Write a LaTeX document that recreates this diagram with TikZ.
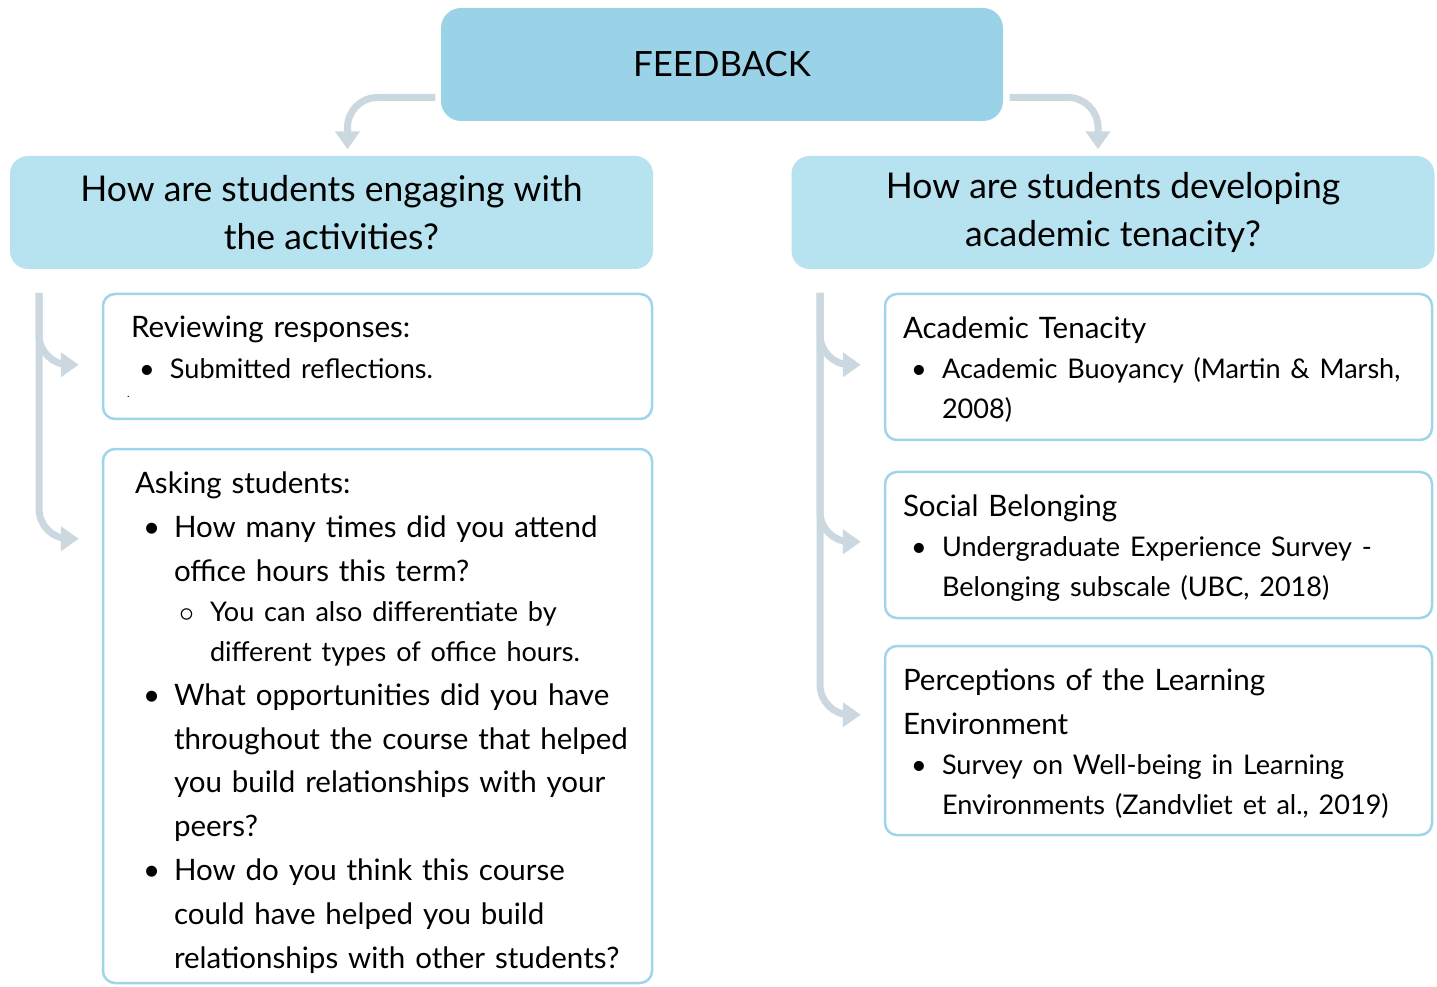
\documentclass[tikz,border=0pt]{standalone}
\usepackage{fontspec}
\setmainfont{Lato}
\usetikzlibrary{calc,arrows.meta}

\definecolor{fbblue}{HTML}{9AD3E8}
\definecolor{qblue}{HTML}{B7E2EF}
\definecolor{cardline}{HTML}{9ED5EB}
\definecolor{flowgray}{HTML}{CCD8DF}

% bullets and hanging indents
\newcommand{\itm}{\hspace*{0.8mm}\makebox[3.1mm][l]{\textbullet}}
\newcommand{\ind}{\hspace*{3.9mm}}
\newcommand{\subitm}{\hspace*{4.4mm}\makebox[3.1mm][l]{$\circ$}}
\newcommand{\subind}{\hspace*{7.5mm}}
\newcommand{\sml}{\fontsize{7.7}{12.5}\selectfont}
\newcommand{\pad}[1]{\leftskip=#1\rightskip=0pt plus 1fil\relax}

\tikzset{
    fbbox/.style={fill=fbblue, rounded corners=2mm, minimum width=56.2mm, minimum height=11.3mm, font=\fontsize{9.9}{12}\selectfont},
    qbox/.style={fill=qblue, rounded corners=1.8mm, minimum width=64.3mm, minimum height=11.3mm, align=center, font=\fontsize{10.1}{13.66}\selectfont},
    card/.style={draw=cardline, line width=0.25mm, rounded corners=1.2mm, align=left, inner xsep=1mm, font=\fontsize{8.4}{12.5}\selectfont},
    flow/.style={draw=flowgray, line width=0.7mm, rounded corners=3mm, -{Triangle[width=2.4mm,length=1.8mm]}}
}

\begin{document}
\begin{tikzpicture}[x=0.1mm, y=-0.1mm]
        \useasboundingbox (0,0) rectangle (1437,987);
        %TOP
        \node[fbbox] (fb) at (722,64.5) {FEEDBACK};
        %QUESTIONS
        \node[qbox] (engage) at (331.5,212.5) {How are students engaging with\\the activities?};
        \node[qbox] (tenacity) at (1113,212.5) {How are students developing\\academic tenacity?};
        %LEFT CARDS
        \node[card, text width=52.9mm, minimum height=12.5mm] (rev) at (377.5,356.5)
            {\pad{1.8mm}Reviewing responses:\\[-0.3mm]
             {\sml\itm Submitted reflections.}\\[-2.5mm]
             \hspace*{-0.4mm}{\fontsize{3}{3}\selectfont .}\par};
        \node[card, text width=52.9mm, minimum height=53.4mm, inner ysep=0.8mm] (ask) at (377.5,716)
            {\pad{2.2mm}\rule{0pt}{10pt}Asking students:\\
             \itm How many times did you attend\\
             \ind office hours this term?\\[-0.4mm]
             {\sml\subitm You can also differentiate by}\\[-0.4mm]
             {\sml\subind different types of office hours.}\\
             \itm What opportunities did you have\\
             \ind throughout the course that helped\\
             \ind you build relationships with your\\
             \ind peers?\\
             \itm How do you think this course\\
             \ind could have helped you build\\
             \ind relationships with other students?\par};
        %RIGHT CARDS
        \node[card, text width=52.7mm, minimum height=14.6mm] (acad) at (1158.5,367)
            {\pad{0.8mm}\rule{0pt}{7.8pt}Academic Tenacity\\[-0.4mm]
             {\sml\itm Academic Buoyancy (Martin \& Marsh,}\\[-0.4mm]
             {\sml\ind 2008)}\par};
        \node[card, text width=52.7mm, minimum height=14.6mm] (social) at (1158.5,545)
            {\pad{0.8mm}\rule{0pt}{7.8pt}Social Belonging\\[-0.4mm]
             {\sml\itm Undergraduate Experience Survey -}\\[-0.4mm]
             {\sml\ind Belonging subscale (UBC, 2018)}\par};
        \node[card, text width=52.7mm, minimum height=18.9mm] (percep) at (1158.5,740.5)
            {\pad{0.8mm}\rule{0pt}{7.8pt}Perceptions of the Learning\\
             Environment\\[-0.4mm]
             {\sml\itm Survey on Well-being in Learning}\\[-0.4mm]
             {\sml\ind Environments (Zandvliet et al., 2019)}\par};
        %ARROWS
        \coordinate (ltop) at (39,293);
        \coordinate (rtop) at (820,293);
        \draw[flow] ($(fb.west)+(-5,33)$) -| ($(engage.north)+(16,-6)$);
        \draw[flow] ($(fb.east)+(6,33)$) -| ($(tenacity.north)+(-15,-6)$);
        \draw[flow] (ltop) |- ($(rev.north west)+(-23,72)$);
        \draw[flow] (ltop) |- ($(ask.north west)+(-23,91)$);
        \draw[flow] (rtop) |- ($(acad.north west)+(-23,72)$);
        \draw[flow] (rtop) |- ($(social.north west)+(-23,71)$);
        \draw[flow] (rtop) |- ($(percep.north west)+(-23,70)$);
    \end{tikzpicture}
\end{document}
